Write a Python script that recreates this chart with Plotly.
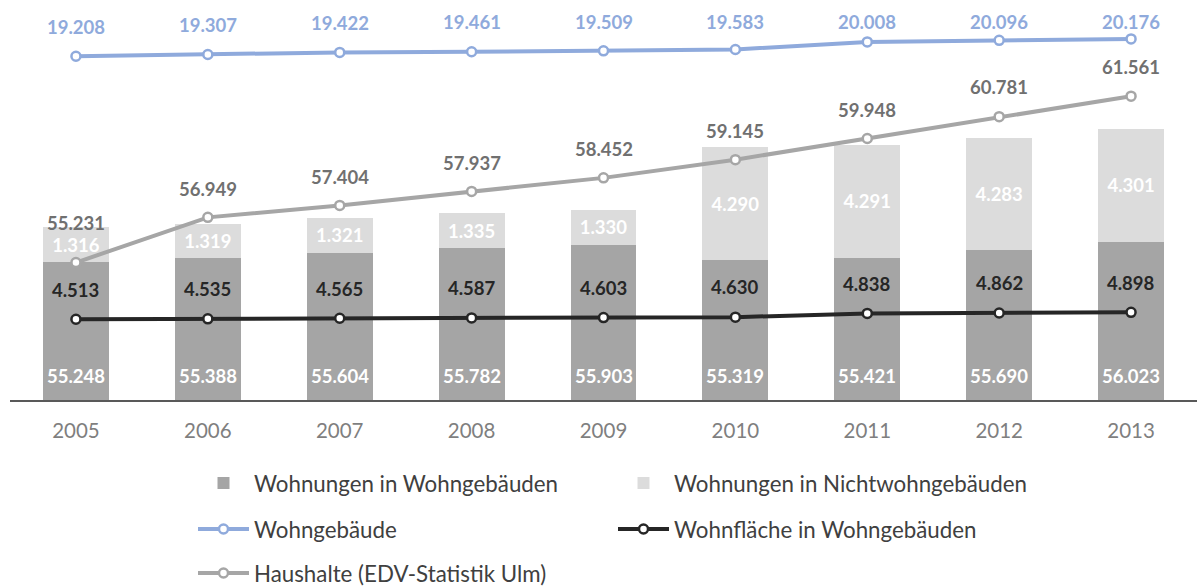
import plotly.graph_objects as go

# ---------------- data ----------------
years = ["2005", "2006", "2007", "2008", "2009", "2010", "2011", "2012", "2013"]
wohnungen_wohngeb = [55.248, 55.388, 55.604, 55.782, 55.903, 55.319, 55.421, 55.690, 56.023]
wohnungen_nichtwohngeb = [1.316, 1.319, 1.321, 1.335, 1.330, 4.290, 4.291, 4.283, 4.301]
wohngebaeude = [19.208, 19.307, 19.422, 19.461, 19.509, 19.583, 20.008, 20.096, 20.176]
wohnflaeche = [4.513, 4.535, 4.565, 4.587, 4.603, 4.630, 4.838, 4.862, 4.898]
haushalte = [55.231, 56.949, 57.404, 57.937, 58.452, 59.145, 59.948, 60.781, 61.561]

# ---------------- style ----------------
FONT = "Lato"
C_DARK = "#A5A5A5"
C_LIGHT = "#DCDCDC"
C_BLUE = "#8FAADC"
C_BLACK = "#262626"
C_GRAY = "#A6A6A6"
C_GRAY_LBL = "#707070"
LBL_SIZE = 18.5

# label offsets (px) above points
blue_shift = [29.5, 29.2, 29.7, 29.5, 29.1, 27.8, 20.2, 18.6, 17.2]
black_shift = [29.7] * 9
gray_shift = [40, 28.5, 28.7, 28.7, 28.7, 29, 28.3, 29.3, 29]

def fmt(v):
    return f"{v:.3f}"

xpos = list(range(len(years)))  # category positions, labelled with years

fig = go.Figure()

fig.add_trace(go.Bar(
    x=xpos, y=wohnungen_wohngeb, name="Wohnungen in Wohngebäuden",
    marker=dict(color=C_DARK, line=dict(width=0)), legend="legend",
    hoverinfo="skip"))
fig.add_trace(go.Bar(
    x=xpos, y=wohnungen_nichtwohngeb, name="Wohnungen in Nichtwohngebäuden",
    marker=dict(color=C_LIGHT, line=dict(width=0)), legend="legend",
    text=[fmt(v) for v in wohnungen_nichtwohngeb], textposition="inside",
    insidetextanchor="middle", textangle=0, constraintext="none",
    textfont=dict(family=FONT, size=LBL_SIZE, color="white", weight="bold"),
    hoverinfo="skip"))

marker_common = dict(symbol="circle", size=9, color="white")

fig.add_trace(go.Scatter(
    x=xpos, y=wohngebaeude, name="Wohngebäude", mode="lines+markers",
    yaxis="y2", line=dict(color=C_BLUE, width=4),
    marker=dict(marker_common, line=dict(color=C_BLUE, width=2.5)),
    legend="legend2", hoverinfo="skip", cliponaxis=False))
fig.add_trace(go.Scatter(
    x=xpos, y=wohnflaeche, name="Wohnfläche in Wohngebäuden", mode="lines+markers",
    yaxis="y2", line=dict(color=C_BLACK, width=4),
    marker=dict(marker_common, line=dict(color=C_BLACK, width=2.5)),
    legend="legend2", hoverinfo="skip", cliponaxis=False))
fig.add_trace(go.Scatter(
    x=xpos, y=haushalte, name="Haushalte (EDV-Statistik Ulm)", mode="lines+markers",
    yaxis="y", line=dict(color=C_GRAY, width=4),
    marker=dict(marker_common, line=dict(color=C_GRAY, width=2.5)),
    legend="legend3", hoverinfo="skip", cliponaxis=False))

annotations = []
lblfont = lambda c: dict(family=FONT, size=LBL_SIZE, color=c, weight="bold")
for i in xpos:
    annotations.append(dict(x=i, y=0, xref="x", yref="y domain", yanchor="middle",
                            yshift=24.3, text=fmt(wohnungen_wohngeb[i]), showarrow=False,
                            font=lblfont("white")))
    annotations.append(dict(x=i, y=wohngebaeude[i], xref="x", yref="y2", yanchor="middle",
                            yshift=blue_shift[i], text=fmt(wohngebaeude[i]), showarrow=False,
                            font=lblfont(C_BLUE)))
    annotations.append(dict(x=i, y=wohnflaeche[i], xref="x", yref="y2", yanchor="middle",
                            yshift=black_shift[i], text=fmt(wohnflaeche[i]), showarrow=False,
                            font=lblfont(C_BLACK)))
    annotations.append(dict(x=i, y=haushalte[i], xref="x", yref="y", yanchor="middle",
                            yshift=gray_shift[i], text=fmt(haushalte[i]), showarrow=False,
                            font=lblfont(C_GRAY_LBL)))

legend_common = dict(orientation="h", xref="container", yref="container",
                     xanchor="left", yanchor="middle", x=193 / 1197,
                     font=dict(family=FONT, size=22.3, color="#404040"),
                     itemwidth=51, entrywidth=354, traceorder="normal",
                     bgcolor="rgba(0,0,0,0)", itemclick=False, itemdoubleclick=False)

fig.update_layout(
    width=1197, height=586,
    margin=dict(l=10, r=0, t=0, b=186, autoexpand=False),
    paper_bgcolor="white", plot_bgcolor="white",
    barmode="stack", bargap=0.5,
    showlegend=True,
    font=dict(family=FONT),
    xaxis=dict(type="linear", range=[-0.5, len(years) - 0.5],
               tickmode="array", tickvals=xpos, ticktext=years,
               showline=True, linecolor="#595959", linewidth=2,
               showgrid=False, zeroline=False, ticks="outside", ticklen=11, tickwidth=1,
               tickcolor="rgba(0,0,0,0)", automargin=False, ticklabeloverflow="allow",
               tickfont=dict(family=FONT, size=20.5, color="#7F7F7F")),
    yaxis=dict(range=[50, 65.22], visible=False, showgrid=False, zeroline=False),
    yaxis2=dict(range=[0, 22.35], overlaying="y", visible=False, showgrid=False,
                zeroline=False),
    legend=dict(legend_common, y=1 - 483 / 586),
    legend2=dict(legend_common, y=1 - 529 / 586),
    legend3=dict(legend_common, y=1 - 573 / 586),
    annotations=annotations,
    hovermode=False,
)

fig.write_html("out.html", config={"displayModeBar": False},
               post_script="document.body.style.margin='0';")
